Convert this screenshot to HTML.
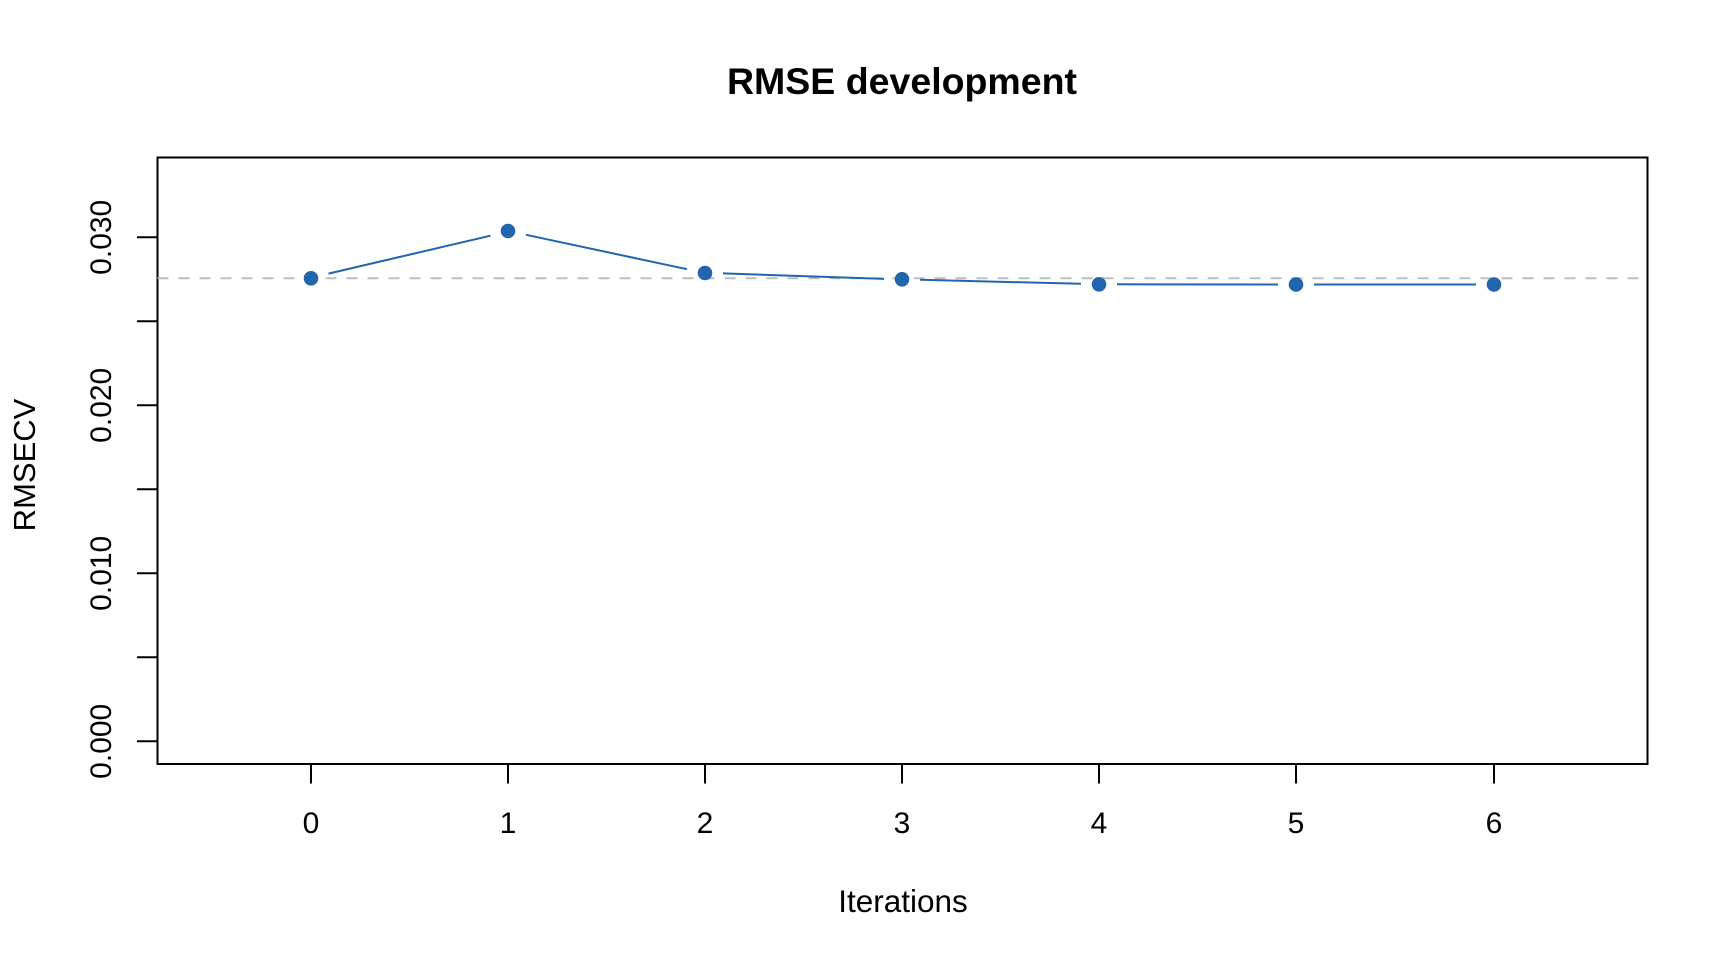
<!DOCTYPE html>
<html><head><meta charset="utf-8"><style>html,body{margin:0;padding:0;background:#fff;}svg{display:block}</style></head>
<body>
<svg width="1728" height="960" xmlns="http://www.w3.org/2000/svg" font-family="Liberation Sans, Arial, sans-serif">
<text x="902" y="94" font-size="37.5" font-weight="bold" text-anchor="middle">RMSE development</text>
<rect x="157.5" y="157.5" width="1490" height="606.5" fill="none" stroke="#000" stroke-width="2"/>
<line x1="157.5" y1="278.3" x2="1647.5" y2="278.3" stroke="#bdbdbd" stroke-width="2" stroke-dasharray="11,10"/>
<g stroke="#000" stroke-width="2">
<line x1="137" y1="741.3" x2="157.5" y2="741.3"/><line x1="137" y1="657.3" x2="157.5" y2="657.3"/>
<line x1="137" y1="573.3" x2="157.5" y2="573.3"/><line x1="137" y1="489.3" x2="157.5" y2="489.3"/>
<line x1="137" y1="405.3" x2="157.5" y2="405.3"/><line x1="137" y1="321.3" x2="157.5" y2="321.3"/>
<line x1="137" y1="237.3" x2="157.5" y2="237.3"/>
<line x1="311" y1="764" x2="311" y2="783.5"/><line x1="508" y1="764" x2="508" y2="783.5"/>
<line x1="705" y1="764" x2="705" y2="783.5"/><line x1="902" y1="764" x2="902" y2="783.5"/>
<line x1="1099" y1="764" x2="1099" y2="783.5"/><line x1="1296" y1="764" x2="1296" y2="783.5"/>
<line x1="1494" y1="764" x2="1494" y2="783.5"/>
</g>
<g font-size="30" text-anchor="middle">
<text transform="translate(111,741.3) rotate(-90)">0.000</text>
<text transform="translate(111,573.3) rotate(-90)">0.010</text>
<text transform="translate(111,405.3) rotate(-90)">0.020</text>
<text transform="translate(111,237.3) rotate(-90)">0.030</text>
<text x="311" y="833">0</text><text x="508" y="833">1</text><text x="705" y="833">2</text>
<text x="902" y="833">3</text><text x="1099" y="833">4</text><text x="1296" y="833">5</text><text x="1494" y="833">6</text>
<text x="903" y="912" font-size="31.5">Iterations</text>
<text transform="translate(35,465) rotate(-90)" font-size="31">RMSECV</text>
</g>
<g stroke="#2166ac" stroke-width="2">
<line x1="328.5" y1="273.6" x2="490.5" y2="235.7"/>
<line x1="526" y1="234.8" x2="687" y2="269.2"/>
<line x1="723" y1="273.4" x2="884" y2="278.9"/>
<line x1="920" y1="279.8" x2="1081" y2="283.8"/>
<line x1="1117" y1="284.3" x2="1278" y2="284.5"/>
<line x1="1314" y1="284.5" x2="1476" y2="284.5"/>
</g>
<g fill="#2166ac">
<circle cx="311" cy="278.3" r="7.3"/><circle cx="508" cy="231" r="7.3"/><circle cx="705" cy="273" r="7.3"/>
<circle cx="902" cy="279.3" r="7.3"/><circle cx="1099" cy="284.3" r="7.3"/><circle cx="1296" cy="284.5" r="7.3"/>
<circle cx="1494" cy="284.5" r="7.3"/>
</g>
</svg>
</body></html>
